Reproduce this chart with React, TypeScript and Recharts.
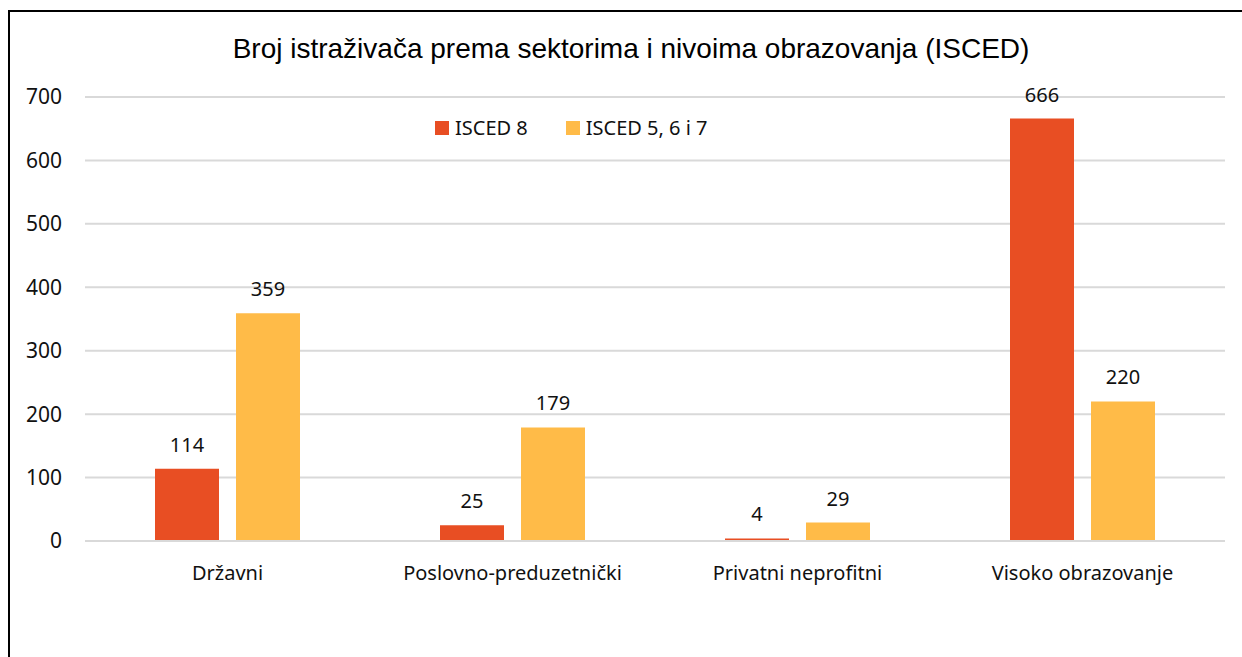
import { BarChart, Bar, XAxis, YAxis, CartesianGrid, Legend, LabelList } from 'recharts';

const sectors = ['Državni', 'Poslovno-preduzetnički', 'Privatni neprofitni', 'Visoko obrazovanje'];
const isced8 = [114, 25, 4, 666];
const isced567 = [359, 179, 29, 220];
const yTicks = [0, 100, 200, 300, 400, 500, 600, 700];
const seriesNames = ['ISCED 8', 'ISCED 5, 6 i 7'];

const RED = '#E84E23';
const YELLOW = '#FFBB48';
const FONT = '"Noto Sans", sans-serif';

const data = sectors.map((name, i) => ({ name, isced8: isced8[i], isced567: isced567[i] }));

function LegendBox({ payload }: any) {
  const items = [...(payload || [])].sort((a: any, b: any) => seriesNames.indexOf(a.value) - seriesNames.indexOf(b.value));
  return (
    <div style={{ display: 'flex', fontFamily: FONT, fontSize: 20, color: '#111' }}>
      {items.map((p: any, i: number) => (
        <div key={i} style={{ display: 'flex', alignItems: 'center', marginRight: 38 }}>
          <span style={{ width: 14, height: 14, background: p.color, marginRight: 6, display: 'inline-block' }} />
          <span>{p.value}</span>
        </div>
      ))}
    </div>
  );
}

export default function App() {
  return (
    <div style={{ position: 'absolute', left: 0, top: 0, width: 1242, height: 657, background: '#fff', overflow: 'hidden' }}>
      <div style={{ position: 'absolute', left: 8, top: 10, width: 1300, height: 700, borderTop: '2px solid #000', borderLeft: '2px solid #000' }} />
      <div style={{ position: 'absolute', left: 0, width: 1262, top: 33, textAlign: 'center', fontFamily: '"Liberation Sans", Arial, sans-serif', fontSize: 28, color: '#000' }}>
        Broj istraživača prema sektorima i nivoima obrazovanja (ISCED)
      </div>
      <div style={{ position: 'absolute', left: 0, top: 0 }}>
        <BarChart width={1242} height={657} data={data} margin={{ top: 97, right: 17, left: 25, bottom: 76 }} barGap={17} barSize={64}>
          <CartesianGrid vertical={false} stroke="#d9d9d9" strokeWidth={2} />
          <XAxis dataKey="name" axisLine={{ stroke: '#d9d9d9', strokeWidth: 2 }} tickLine={false} tickSize={0} tickMargin={25} height={40}
            tick={{ fill: '#111', fontSize: 20, fontFamily: FONT }} interval={0} />
          <YAxis domain={[0, 700]} ticks={yTicks} axisLine={false} tickLine={false} tickSize={0} tickMargin={23} width={60}
            tick={{ fill: '#111', fontSize: 21, fontFamily: FONT }} />
          <Legend layout="horizontal" verticalAlign="middle" align="center" content={<LegendBox />}
            wrapperStyle={{ position: 'absolute', top: 114, left: 435, width: 400 }} />
          <Bar dataKey="isced8" name="ISCED 8" fill={RED} isAnimationActive={false}>
            <LabelList dataKey="isced8" position="top" offset={17} style={{ fill: '#111', fontSize: 20, fontFamily: FONT }} />
          </Bar>
          <Bar dataKey="isced567" name="ISCED 5, 6 i 7" fill={YELLOW} isAnimationActive={false}>
            <LabelList dataKey="isced567" position="top" offset={17} style={{ fill: '#111', fontSize: 20, fontFamily: FONT }} />
          </Bar>
        </BarChart>
      </div>
    </div>
  );
}
